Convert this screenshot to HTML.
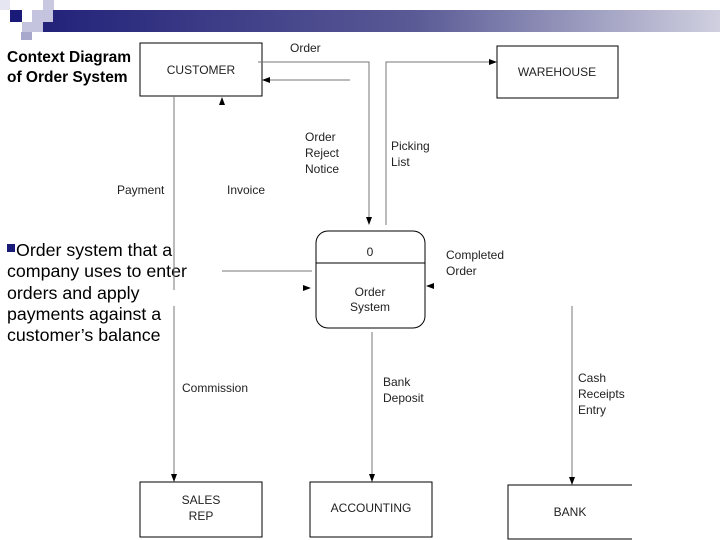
<!DOCTYPE html>
<html><head><meta charset="utf-8"><style>
html,body{margin:0;padding:0;background:#fff;}
svg{display:block;}
text{font-family:"Liberation Sans",sans-serif;}
</style></head><body>
<svg width="720" height="540" viewBox="0 0 720 540" xmlns="http://www.w3.org/2000/svg">
<defs>
<linearGradient id="g" x1="0" x2="1" y1="0" y2="0">
<stop offset="0" stop-color="#22227a"/><stop offset="0.55" stop-color="#5a5a96"/><stop offset="1" stop-color="#d0d0e0"/>
</linearGradient>
</defs>
<rect x="43" y="10" width="677" height="22" fill="url(#g)"/>
<rect x="0" y="0" width="10" height="10" fill="#e6e6f2"/>
<rect x="43" y="0" width="11" height="10" fill="#c8c8e0"/>
<rect x="32" y="10" width="21" height="12" fill="#c4c4de"/>
<rect x="10" y="10" width="12" height="12" fill="#1a1a78"/>
<rect x="22" y="22" width="21" height="10" fill="#c4c4de"/>
<rect x="21" y="32" width="11" height="8" fill="#a8a8cc"/>

<text x="7" y="62" font-size="15.5" font-weight="bold" fill="#000">Context Diagram</text>
<text x="7" y="82" font-size="15.5" font-weight="bold" fill="#000">of Order System</text>

<g font-size="17.8" fill="#000">
<rect x="7" y="244" width="8" height="8" fill="#1a1a78"/>
<text x="16" y="256">Order system that a</text>
<text x="7" y="277">company uses to enter</text>
<text x="7" y="299">orders and apply</text>
<text x="7" y="320">payments against a</text>
<text x="7" y="341">customer’s balance</text>
</g>

<g fill="none" stroke="#000" stroke-width="1">
<rect x="140" y="43" width="122" height="53"/>
<rect x="497" y="46" width="121" height="52"/>
<rect x="140" y="482" width="122" height="55"/>
<rect x="310" y="482" width="122" height="55"/>
<path d="M632 485 H508 V539 H632"/>
<rect x="316" y="231" width="109" height="97" rx="12"/>
<line x1="316" y1="263" x2="425" y2="263"/>
</g>
<g fill="none" stroke="#777" stroke-width="1">
<path d="M258 62 H369 V220"/>
<line x1="350" y1="80" x2="268" y2="80"/>
<path d="M386 225 V62 H490"/>
<line x1="174" y1="96" x2="174" y2="290"/>
<line x1="174" y1="306" x2="174" y2="476"/>
<line x1="222" y1="271" x2="312" y2="271"/>
<line x1="372" y1="332" x2="372" y2="476"/>
<line x1="572" y1="306" x2="572" y2="478"/>
</g>
<g fill="#000">
<polygon points="262,80 270,77 270,83"/>
<polygon points="222,97 219,105 225,105"/>
<polygon points="369,225 366,217 372,217"/>
<polygon points="497,62 489,59 489,65"/>
<polygon points="311,288 303,285 303,291"/>
<polygon points="426,286 434,283 434,289"/>
<polygon points="174,482 171,474 177,474"/>
<polygon points="372,482 369,474 375,474"/>
<polygon points="572,485 569,477 575,477"/>
</g>
<g font-size="12" fill="#222">
<text x="201" y="74" text-anchor="middle">CUSTOMER</text>
<text x="557" y="76" text-anchor="middle">WAREHOUSE</text>
<text x="290" y="52">Order</text>
<text x="305" y="141">Order</text>
<text x="305" y="157">Reject</text>
<text x="305" y="173">Notice</text>
<text x="391" y="150">Picking</text>
<text x="391" y="166">List</text>
<text x="117" y="194">Payment</text>
<text x="227" y="194">Invoice</text>
<text x="370" y="256" text-anchor="middle">0</text>
<text x="370" y="296" text-anchor="middle">Order</text>
<text x="370" y="311" text-anchor="middle">System</text>
<text x="446" y="259">Completed</text>
<text x="446" y="275">Order</text>
<text x="182" y="392">Commission</text>
<text x="383" y="386">Bank</text>
<text x="383" y="402">Deposit</text>
<text x="578" y="382">Cash</text>
<text x="578" y="398">Receipts</text>
<text x="578" y="414">Entry</text>
<text x="201" y="504" text-anchor="middle">SALES</text>
<text x="201" y="520" text-anchor="middle">REP</text>
<text x="371" y="512" text-anchor="middle">ACCOUNTING</text>
<text x="570" y="516" text-anchor="middle">BANK</text>
</g>
</svg>
</body></html>
